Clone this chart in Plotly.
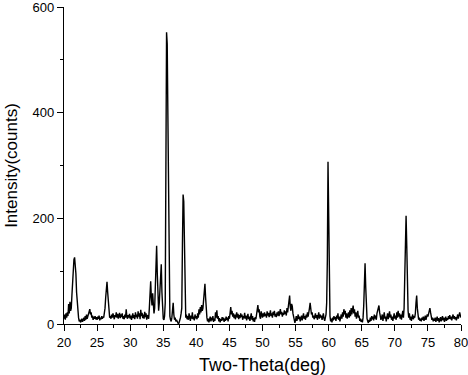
import numpy as np
import plotly.graph_objects as go

# XRD pattern: intensity sampled every 0.1 deg from 20.0 to 80.0 (two-theta)
theta_start = 20.0
theta_step = 0.1

intensity = [
    10, 18, 8, 20, 12, 22, 15, 38, 20, 42,          # 20
    25, 30, 55, 80, 100, 122, 126, 115, 95, 60,     # 21
    40, 25, 12, 5, 8, 3, 6, 10, 4, 7,               # 22
    12, 6, 15, 8, 18, 10, 14, 20, 24, 28,           # 23
    18, 22, 12, 16, 8, 14, 10, 15, 9, 13,           # 24
    8, 14, 10, 16, 7, 12, 9, 15, 10, 14,            # 25
    12, 18, 30, 50, 72, 80, 60, 35, 18, 12,         # 26
    15, 10, 18, 12, 20, 14, 9, 17, 13, 22,          # 27
    12, 19, 10, 16, 21, 11, 18, 13, 20, 10,         # 28
    15, 9, 18, 12, 28, 14, 10, 17, 12, 19,          # 29
    10, 16, 8, 14, 20, 11, 17, 9, 22, 13,           # 30
    18, 10, 24, 14, 20, 9, 27, 15, 21, 11,          # 31
    18, 10, 23, 13, 20, 8, 17, 12, 10, 30,          # 32
    60, 81, 50, 35, 58, 40, 20, 30, 75, 110,        # 33
    148, 95, 50, 25, 40, 70, 100, 113, 60, 20,      # 34
    10, 8, 15, 40, 270, 552, 530, 395, 220, 45,     # 35
    15, 8, 5, 12, 30, 40, 18, 8, 12, 5,             # 36
    8, 4, 2, 0, 3, 6, 12, 20, 30, 150,              # 37
    245, 232, 130, 30, 12, 18, 9, 15, 8, 20,        # 38
    12, 6, 16, 10, 22, 9, 14, 7, 18, 11,            # 39
    15, 9, 20, 12, 28, 18, 32, 22, 36, 25,          # 40
    30, 45, 68, 76, 50, 25, 12, 5, 10, 3,           # 41
    8, 14, 5, 12, 7, 15, 4, 10, 6, 22,              # 42
    12, 26, 10, 15, 5, 11, 3, 9, 6, 13,             # 43
    7, 12, 4, 10, 6, 14, 8, 12, 5, 15,              # 44
    10, 22, 32, 18, 25, 14, 20, 11, 18, 9,          # 45
    16, 22, 12, 19, 9, 17, 11, 20, 13, 18,          # 46
    8, 15, 11, 21, 10, 16, 7, 14, 19, 9,            # 47
    14, 6, 12, 20, 8, 15, 5, 11, 4, 13,             # 48
    9, 18, 30, 36, 22, 28, 14, 10, 24, 16,          # 49
    12, 20, 14, 22, 15, 19, 12, 24, 16, 21,         # 50
    13, 18, 26, 15, 20, 12, 23, 17, 25, 14,         # 51
    19, 13, 22, 16, 24, 15, 20, 28, 18, 23,         # 52
    14, 21, 17, 26, 19, 24, 16, 30, 22, 38,         # 53
    48, 54, 32, 25, 38, 34, 20, 12, 5, 2,           # 54
    8, 15, 6, 12, 18, 9, 14, 5, 11, 16,             # 55
    7, 13, 20, 10, 15, 8, 18, 12, 22, 14,           # 56
    20, 30, 40, 28, 18, 22, 12, 16, 9, 14,          # 57
    20, 11, 17, 8, 15, 22, 10, 18, 12, 16,          # 58
    8, 14, 20, 10, 6, 12, 18, 40, 120, 307,         # 59
    222, 60, 15, 5, 10, 3, 12, 7, 15, 9,            # 60
    13, 6, 16, 10, 20, 8, 14, 5, 12, 18,            # 61
    10, 22, 14, 28, 18, 25, 12, 20, 10, 16,         # 62
    22, 12, 26, 15, 30, 18, 24, 35, 20, 28,         # 63
    14, 22, 10, 18, 25, 12, 16, 6, 10, 4,           # 64
    8, 3, 12, 35, 80, 115, 70, 30, 10, 5,           # 65
    2, 8, 4, 12, 6, 15, 9, 14, 7, 18,               # 66
    10, 16, 8, 20, 26, 30, 35, 22, 14, 8,           # 67
    12, 18, 6, 15, 22, 10, 14, 5, 11, 20,           # 68
    9, 15, 24, 12, 18, 8, 14, 6, 12, 20,            # 69
    10, 16, 8, 22, 12, 25, 14, 20, 10, 18,          # 70
    8, 14, 25, 12, 30, 90, 160, 205, 150, 60,       # 71
    25, 12, 20, 8, 14, 6, 12, 18, 9, 15,            # 72
    12, 20, 40, 54, 30, 15, 8, 12, 6, 10,           # 73
    5, 12, 8, 14, 6, 10, 16, 8, 12, 18,             # 74
    14, 20, 26, 30, 22, 15, 8, 12, 5, 10,           # 75
    6, 12, 4, 9, 14, 6, 11, 3, 8, 13,               # 76
    5, 10, 15, 7, 12, 4, 9, 14, 6, 11,              # 77
    8, 15, 10, 17, 9, 14, 7, 12, 18, 10,            # 78
    15, 9, 13, 7, 12, 18, 10, 14, 22, 16,           # 79
    12,                                             # 80
]

x_ticks = [20, 25, 30, 35, 40, 45, 50, 55, 60, 65, 70, 75, 80]
y_ticks = [0, 200, 400, 600]

two_theta = np.round(theta_start + theta_step * np.arange(len(intensity)), 1)

fig = go.Figure(
    go.Scatter(
        x=two_theta,
        y=intensity,
        mode="lines",
        line=dict(color="black", width=1.4),
        hoverinfo="skip",
    )
)

font = "Liberation Sans, Arial, sans-serif"
fig.update_layout(
    width=468,
    height=375,
    margin=dict(l=64, r=7, t=7, b=51),
    paper_bgcolor="white",
    plot_bgcolor="white",
    showlegend=False,
    font=dict(family=font, size=13, color="black"),
)
common = dict(
    ticks="outside",
    ticklen=6,
    tickwidth=1.2,
    tickcolor="black",
    showline=True,
    linecolor="black",
    linewidth=1.3,
    showgrid=False,
    zeroline=False,
    automargin=False,
    ticklabeloverflow="allow",
    tickfont=dict(size=13, family=font),
)
fig.update_xaxes(
    range=[20, 80],
    tickvals=x_ticks,
    ticktext=[str(v) for v in x_ticks],
    minor=dict(dtick=2.5, tick0=20, ticks="outside", ticklen=3, tickwidth=1.2, tickcolor="black", showgrid=False),
    title=dict(text="Two-Theta(deg)", font=dict(size=18, family=font), standoff=10),
    **common,
)
fig.update_yaxes(
    range=[0, 600],
    tickvals=y_ticks,
    ticktext=[str(v) for v in y_ticks],
    minor=dict(dtick=100, tick0=0, ticks="outside", ticklen=3, tickwidth=1.2, tickcolor="black", showgrid=False),
    title=dict(text="Intensity(counts)", font=dict(size=17, family=font), standoff=10),
    **common,
)

fig.write_html(
    "out.html",
    config={"displayModeBar": False},
    post_script="document.body.style.margin='0';document.body.style.padding='0';",
)
